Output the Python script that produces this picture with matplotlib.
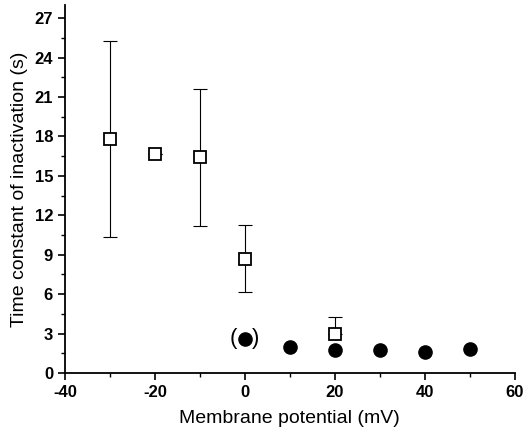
import numpy as np
import matplotlib.pyplot as plt
from matplotlib.ticker import MultipleLocator

plt.rcParams['font.family'] = ['Liberation Sans', 'DejaVu Sans']
plt.rcParams['axes.unicode_minus'] = False

# open squares with error bars
sq_x = [-30, -20, -10, 0, 20]
sq_y = [17.8, 16.7, 16.4, 8.7, 2.97]
sq_lo = [10.35, 16.7, 11.2, 6.13, 2.97]
sq_hi = [25.3, 16.7, 21.6, 11.25, 4.28]

# filled circles
ci_x = [0, 10, 20, 30, 40, 50]
ci_y = [2.56, 2.0, 1.75, 1.75, 1.62, 1.82]

fig = plt.figure(figsize=(5.27, 4.37), dpi=100)
ax = fig.add_axes([0.123, 0.1465, 0.854, 0.842])

sq_y = np.array(sq_y)
yerr = [sq_y - np.array(sq_lo), np.array(sq_hi) - sq_y]
ax.errorbar(sq_x, sq_y, yerr=yerr, fmt='none', ecolor='black', elinewidth=0.8,
            capsize=5, capthick=0.8, zorder=2)
ax.plot(sq_x, sq_y, 's', ms=8, mfc='white', mec='black', mew=1.3, zorder=3)
ax.plot(ci_x, ci_y, 'o', ms=9.5, color='black', zorder=4)

# parentheses around the first filled point
ax.text(ci_x[0] - 2.5, ci_y[0] + 0.05, '(', fontsize=16, ha='center', va='center')
ax.text(ci_x[0] + 2.5, ci_y[0] + 0.05, ')', fontsize=16, ha='center', va='center')

ax.set_xlim(-40, 60)
ax.set_ylim(0, 28)
ax.xaxis.set_major_locator(MultipleLocator(20))
ax.xaxis.set_minor_locator(MultipleLocator(10))
ax.yaxis.set_major_locator(MultipleLocator(3))
ax.yaxis.set_minor_locator(MultipleLocator(1.5))
ax.spines['top'].set_visible(False)
ax.spines['right'].set_visible(False)
for s in ['left', 'bottom']:
    ax.spines[s].set_linewidth(1.3)
ax.tick_params(which='major', length=5, width=1.2, labelsize=12)
ax.tick_params(which='minor', length=3, width=1)
for lab in ax.get_xticklabels() + ax.get_yticklabels():
    lab.set_fontweight('bold')

ax.set_xlabel('Membrane potential (mV)', fontsize=14, labelpad=7)
ax.set_ylabel('Time constant of inactivation (s)', fontsize=14, labelpad=5)

fig.savefig('out.png', dpi=100)
